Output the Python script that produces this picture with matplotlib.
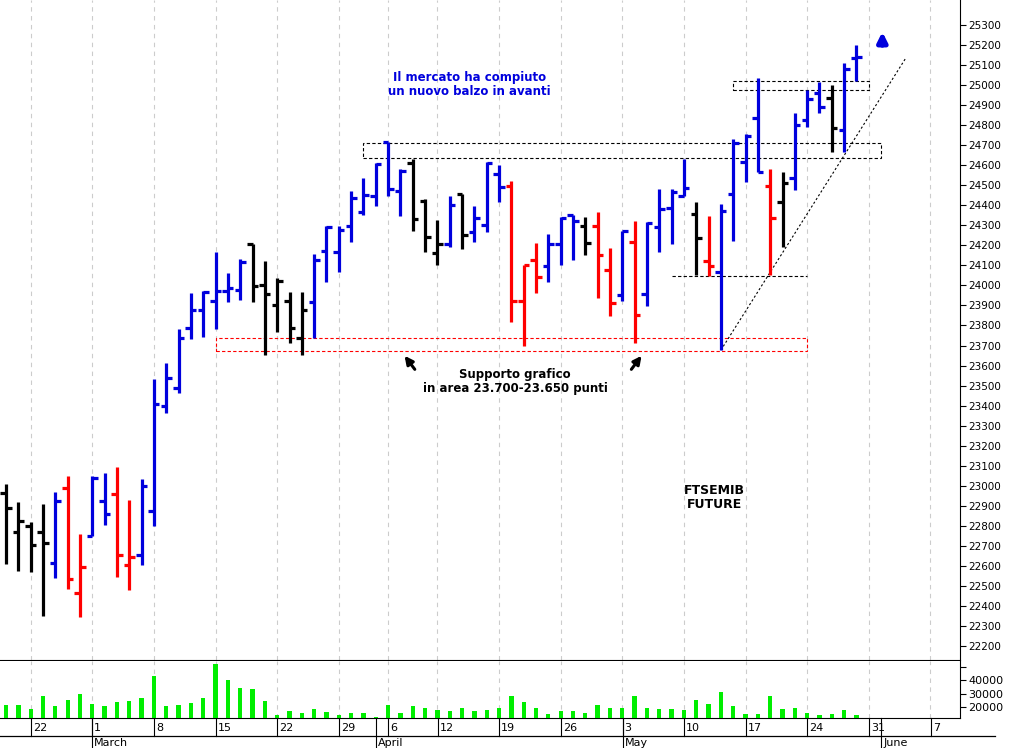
import matplotlib
matplotlib.use("Agg")
import matplotlib.pyplot as plt
import numpy as np
import pandas as pd
from matplotlib.patches import Rectangle

# ---- data ----
dates = [d for d in pd.bdate_range("2021-02-18", "2021-05-28")
         if d not in (pd.Timestamp("2021-04-02"), pd.Timestamp("2021-04-05"))]
opens = [22965, 22770, 22800, 22770, 22615, 22990, 22465, 22750, 22925, 22960,
         22605, 22655, 22875, 23400, 23490, 23785, 23875, 23920, 23970, 23975,
         24205, 24000, 23900, 23920, 23740, 23915, 24170, 24165, 24295, 24365,
         24445, 24715, 24470, 24610, 24420, 24160, 24205, 24455, 24265, 24300,
         24555, 24495, 23920, 24125, 24095, 24205, 24350, 24295, 24295, 24075,
         23950, 24215, 23955, 24290, 24385, 24445, 24355, 24120, 24065, 24455,
         24615, 24835, 24495, 24415, 24535, 24825, 24960, 24935, 24775, 25135]
highs = [23010, 22920, 22820, 22910, 22970, 23050, 22760, 23050, 23065, 23095,
         22930, 23035, 23535, 23615, 23780, 23960, 23970, 24165, 24060, 24130,
         24205, 24120, 24035, 23965, 23965, 24155, 24295, 24295, 24470, 24535,
         24610, 24715, 24580, 24630, 24430, 24325, 24445, 24455, 24395, 24615,
         24600, 24520, 24100, 24210, 24255, 24340, 24350, 24340, 24365, 24185,
         24270, 24320, 24315, 24480, 24480, 24630, 24415, 24345, 24405, 24730,
         24755, 25035, 24580, 24565, 24860, 24975, 25015, 25000, 25110, 25200]
lows = [22610, 22575, 22570, 22350, 22540, 22485, 22345, 22750, 22805, 22545,
        22480, 22605, 22800, 23365, 23465, 23735, 23745, 23780, 23915, 23925,
        23915, 23655, 23770, 23715, 23655, 23740, 24015, 24065, 24215, 24350,
        24395, 24445, 24345, 24270, 24165, 24100, 24190, 24180, 24215, 24265,
        24415, 23815, 23700, 23960, 24015, 24100, 24125, 24150, 23935, 23845,
        23920, 23715, 23895, 24165, 24205, 24445, 24050, 24045, 23680, 24220,
        24515, 24565, 24050, 24190, 24475, 24790, 24860, 24665, 24665, 25020]
closes = [22890, 22825, 22705, 22715, 22925, 22535, 22595, 23040, 22860, 22655,
          22645, 23000, 23410, 23540, 23740, 23875, 23965, 23970, 23985, 24115,
          23995, 23955, 24020, 23785, 23875, 24125, 24290, 24275, 24435, 24450,
          24605, 24480, 24570, 24330, 24240, 24205, 24400, 24250, 24335, 24610,
          24490, 23920, 24100, 24040, 24205, 24335, 24320, 24210, 24150, 23910,
          24270, 23850, 24310, 24380, 24465, 24485, 24235, 24095, 24370, 24710,
          24745, 24565, 24335, 24510, 24800, 24930, 24890, 24785, 25080, 25140]
colors = list("kkkkbrrbbrrbbbbbbbbbkkkkkbbbbbbbbkkkbkbbbrrrbbbkrrbrbbbbkrbbbbrkbbbkbb")
volumes = [21700, 21700, 18800, 28000, 20800, 25000, 29500, 22500, 20500, 23500,
           24500, 26500, 43100, 20500, 21700, 23000, 26500, 51800, 39900, 34200,
           33200, 24500, 14300, 17300, 15300, 18800, 16300, 14300, 15500, 15800,
           12800, 21700, 15500, 21000, 19500, 18000, 16800, 19500, 16800, 18000,
           19300, 28400, 24000, 19300, 14800, 16800, 17300, 15500, 21700, 19300,
           19500, 28200, 19500, 18800, 18800, 18000, 25000, 22500, 31000, 20800,
           14800, 15000, 28000, 18800, 19500, 15800, 14300, 15000, 18000, 14300]
price_ticks = list(range(22200, 25301, 100))
vol_ticks = [20000, 30000, 40000]
day_tick_idx = [2, 7, 12, 17, 22, 27, 31, 35, 40, 45, 50, 55, 60, 65, 70, 75]
day_tick_lbl = ["22", "1", "8", "15", "22", "29", "6", "12", "19", "26", "3",
                "10", "17", "24", "31", "7"]
month_idx = [7, 30, 50, 71]
month_lbl = ["March", "April", "May", "June"]

cmap = {"k": "#000000", "b": "#0000dd", "r": "#ff0000"}
W, H = 1010, 748
fig = plt.figure(figsize=(W / 100, H / 100), dpi=100)
XL = (-0.49, 77.4)
ax = fig.add_axes([0, 1 - 660 / H, 960 / W, 660 / H])
axv = fig.add_axes([0, 1 - 718 / H, 960 / W, 57 / H])
ax.set_xlim(XL); ax.set_ylim(22130, 25425)
axv.set_xlim(XL); axv.set_ylim(11800, 54300)

x = np.arange(len(dates))
for a in (ax, axv):
    for t in day_tick_idx:
        a.axvline(t, color="#cccccc", lw=0.8, ls=(0, (4, 4)), zorder=0)
    a.yaxis.tick_right()
    a.tick_params(axis="y", labelsize=7.5, length=4, pad=2)
    a.set_xticks([])
    for s in ("left", "top"):
        a.spines[s].set_visible(False)
cl = [cmap[c] for c in colors]
ax.vlines(x, lows, highs, colors=cl, lw=2.3, zorder=3)
ax.hlines(opens, x - 0.45, x, colors=cl, lw=2.3, zorder=3)
ax.hlines(closes, x, x + 0.45, colors=cl, lw=2.3, zorder=3)
ax.set_yticks(price_ticks)
ax.set_yticklabels([str(p) for p in price_ticks])

axv.bar(x, volumes, width=0.35, color="#00ee00", zorder=3)
axv.set_yticks(vol_ticks + [50000])
axv.set_yticklabels([str(v) for v in vol_ticks] + [""])
axv.tick_params(axis="y", labelsize=8)

# date axis rows
fig.add_artist(plt.Line2D([0, 995 / W], [1 - 736 / H] * 2, color="k", lw=0.9))
for t, l in zip(day_tick_idx, day_tick_lbl):
    xf = (6 + t * 12.33) / W
    fig.add_artist(plt.Line2D([xf, xf], [1 - 718 / H, 1 - 736 / H], color="k", lw=0.8))
    fig.text(xf + 2 / W, 1 - 728 / H, l, fontsize=8, va="center", ha="left")
for t, l in zip(month_idx, month_lbl):
    xf = (6 + t * 12.33) / W
    fig.add_artist(plt.Line2D([xf, xf], [1 - 718 / H, 0], color="k", lw=0.8))
    fig.text(xf + 2 / W, 1 - 743 / H, l, fontsize=8, va="center", ha="left")

# annotations
ax.add_patch(Rectangle((17, 23672), 65 - 17, 65, fill=False, ec="red", ls=(0, (3, 2)), lw=0.8))
ax.add_patch(Rectangle((29.0, 24635), 71 - 29.0, 75, fill=False, ec="k", ls=(0, (3, 2)), lw=0.8))
ax.add_patch(Rectangle((59, 24975), 70 - 59, 45, fill=False, ec="k", ls=(0, (3, 2)), lw=0.8))
ax.plot([54, 65], [24045, 24045], color="k", ls=(0, (3, 2)), lw=0.8)
ax.plot([58, 73], [23677, 25135], color="k", ls=(0, (2, 2)), lw=0.8)

ax.text(37.6, 25005, "Il mercato ha compiuto\nun nuovo balzo in avanti", color="#0000dd",
        fontsize=8.5, fontweight="bold", ha="center", va="center", linespacing=1.1)
ax.text(41.3, 23520, "Supporto grafico\nin area 23.700-23.650 punti", color="k",
        fontsize=8.5, fontweight="bold", ha="center", va="center", linespacing=1.1)
ax.text(57.5, 22940, "FTSEMIB\nFUTURE", color="k",
        fontsize=9, fontweight="bold", ha="center", va="center", linespacing=1.1)
ax.annotate("", xy=(32.2, 23660), xytext=(33.3, 23570),
            arrowprops=dict(arrowstyle="-|>", color="k", lw=2.2, mutation_scale=12))
ax.annotate("", xy=(51.7, 23660), xytext=(50.6, 23570),
            arrowprops=dict(arrowstyle="-|>", color="k", lw=2.2, mutation_scale=12))
ax.annotate("", xy=(71.1, 25280), xytext=(71.1, 25185),
            arrowprops=dict(arrowstyle="-|>", color="#0000dd", lw=3.5, mutation_scale=14))

fig.savefig("out.png", dpi=100)
